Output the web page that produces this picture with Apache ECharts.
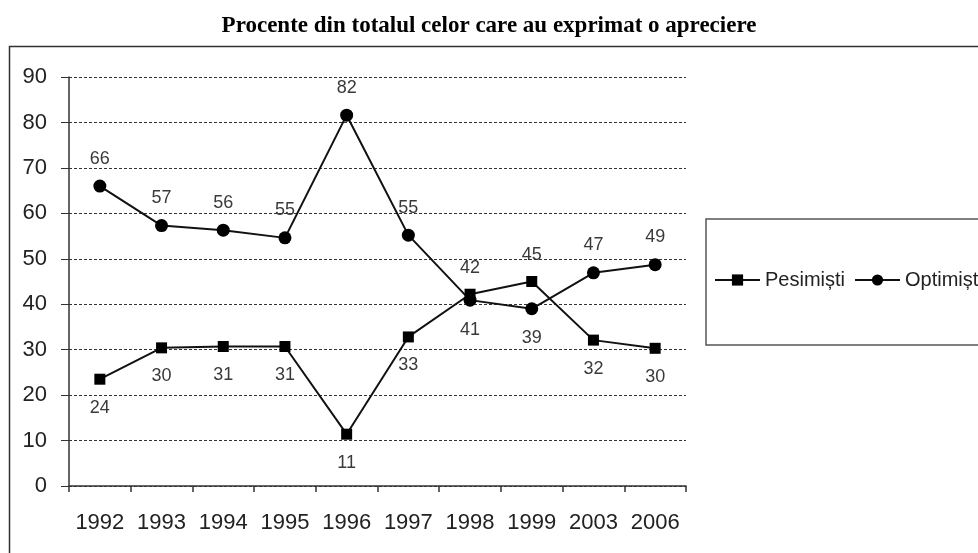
<!DOCTYPE html>
<html>
<head>
<meta charset="utf-8">
<script src="https://cdn.jsdelivr.net/npm/echarts@6/dist/echarts.min.js"></script>
<style>
html,body{margin:0;padding:0;background:#fff;}
#chart{width:978px;height:553px;}
</style>
</head>
<body>
<div id="chart"></div>
<script>
const titleText = 'Procente din totalul celor care au exprimat o apreciere';
const years = ['1992','1993','1994','1995','1996','1997','1998','1999','2003','2006'];
const pesimistiName = 'Pesimiști';
const optimistiName = 'Optimiști';
const pesimisti = [23.5, 30.4, 30.7, 30.7, 11.4, 32.8, 42.2, 45.0, 32.1, 30.3];
const optimisti = [66.0, 57.3, 56.3, 54.6, 81.6, 55.2, 40.9, 39.0, 46.9, 48.7];
const yTicks = [0, 10, 20, 30, 40, 50, 60, 70, 80, 90];

const sans = 'Liberation Sans, Arial, sans-serif';

function buildData(vals, other) {
  return vals.map((v, i) => ({
    value: v,
    label: v >= other[i]
      ? { position: 'top', distance: 12 }
      : { position: 'bottom', distance: 14 }
  }));
}

const chart = echarts.init(document.getElementById('chart'), null, { renderer: 'canvas' });

const lineStyleCommon = { color: '#111', width: 2 };
const labelCommon = {
  show: true,
  color: '#3a3a3a',
  fontSize: 18,
  fontFamily: sans,
  formatter: p => Math.round(p.value)
};

chart.setOption({
  backgroundColor: '#fff',
  animation: false,
  title: {
    text: titleText,
    left: 'center',
    top: 10,
    textStyle: { fontFamily: 'Liberation Serif, Times New Roman, serif', fontWeight: 'bold', fontSize: 23, color: '#000' }
  },
  graphic: [
    { type: 'rect', shape: { x: 9.5, y: 46.5, width: 1100, height: 700 }, style: { fill: 'none', stroke: '#333', lineWidth: 1.5 }, z: -1 },
    { type: 'rect', shape: { x: 706, y: 219, width: 400, height: 126 }, style: { fill: '#fff', stroke: '#555', lineWidth: 1.5 }, z: 0 }
  ],
  legend: [
    {
      data: [pesimistiName], left: 714, top: 270, itemWidth: 45, itemHeight: 14, itemGap: 5,
      textStyle: { fontSize: 20, color: '#222', fontFamily: sans }, padding: 0
    },
    {
      data: [optimistiName], left: 854, top: 270, itemWidth: 45, itemHeight: 14, itemGap: 5,
      textStyle: { fontSize: 20, color: '#222', fontFamily: sans }, padding: 0
    }
  ],
  grid: { left: 69, right: 292, top: 77, bottom: 67, containLabel: false },
  xAxis: {
    type: 'category',
    data: years,
    boundaryGap: true,
    axisLine: { lineStyle: { color: '#333', width: 1.5 } },
    axisTick: { show: true, length: 6, interval: 0, lineStyle: { color: '#333', width: 1.5 } },
    axisLabel: { interval: 0, margin: 26, fontSize: 22, color: '#222', fontFamily: sans }
  },
  yAxis: {
    type: 'value',
    min: yTicks[0],
    max: yTicks[yTicks.length - 1],
    interval: 10,
    axisLine: { show: true, lineStyle: { color: '#333', width: 1.5 } },
    axisTick: { show: true, length: 8, lineStyle: { color: '#333', width: 1 } },
    axisLabel: { margin: 22, fontSize: 22, color: '#222', fontFamily: sans },
    splitLine: { show: true, lineStyle: { color: '#333', type: [3, 2], width: 1 } }
  },
  series: [
    {
      name: pesimistiName,
      type: 'line',
      data: buildData(pesimisti, optimisti),
      symbol: 'rect',
      symbolSize: 11,
      itemStyle: { color: '#000' },
      lineStyle: lineStyleCommon,
      label: labelCommon,
      z: 3
    },
    {
      name: optimistiName,
      type: 'line',
      data: buildData(optimisti, pesimisti),
      symbol: 'circle',
      symbolSize: 13,
      itemStyle: { color: '#000' },
      lineStyle: lineStyleCommon,
      label: labelCommon,
      z: 3
    }
  ]
});
</script>
</body>
</html>
